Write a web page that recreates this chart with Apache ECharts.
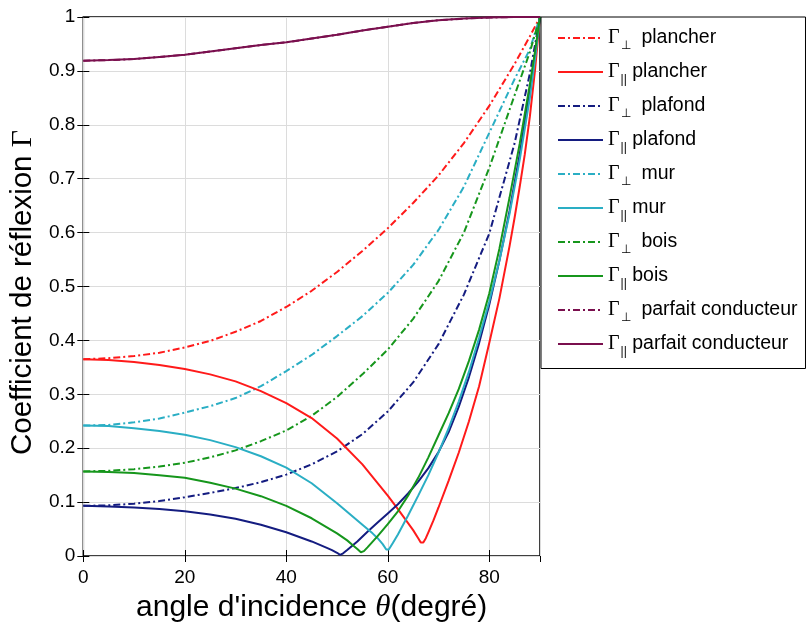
<!DOCTYPE html>
<html>
<head>
<meta charset="utf-8">
<script src="https://cdn.jsdelivr.net/npm/echarts@6/dist/echarts.min.js"></script>
<style>
    html, body { margin: 0; padding: 0; background: #fff; }
    #chart { width: 807px; height: 631px; }
</style>
</head>
<body>
<div id="chart"></div>
<script>
// angles (degrés) communs aux courbes perpendiculaires
var anglesPerp = [0, 5, 10, 15, 20, 25, 30, 35, 40, 45, 50, 55, 60, 65, 70, 75, 80, 85, 88, 90];

var plancherPerp = [0.365, 0.367, 0.371, 0.377, 0.387, 0.399, 0.416, 0.436, 0.462, 0.492, 0.527, 0.566, 0.608, 0.655, 0.706, 0.766, 0.835, 0.913, 0.964, 1];
var plafondPerp = [0.093, 0.094, 0.097, 0.102, 0.109, 0.117, 0.126, 0.137, 0.151, 0.170, 0.194, 0.226, 0.268, 0.322, 0.393, 0.485, 0.598, 0.766, 0.895, 1];
var murPerp = [0.242, 0.243, 0.248, 0.255, 0.266, 0.278, 0.293, 0.315, 0.343, 0.373, 0.408, 0.445, 0.488, 0.540, 0.605, 0.685, 0.785, 0.885, 0.940, 1];
var boisPerp = [0.157, 0.158, 0.161, 0.166, 0.173, 0.183, 0.196, 0.213, 0.233, 0.260, 0.295, 0.337, 0.383, 0.440, 0.510, 0.600, 0.720, 0.855, 0.935, 1];
var conducteurPerp = [0.919, 0.920, 0.922, 0.926, 0.930, 0.936, 0.942, 0.948, 0.953, 0.960, 0.967, 0.975, 0.982, 0.989, 0.994, 0.997, 0.999, 1, 1, 1];

// courbes paralleles (angles propres, plus serres autour du minimum)
var plancherParAngles = [0, 5, 10, 15, 20, 25, 30, 35, 40, 45, 50, 55, 60, 62, 64, 65, 66, 66.5, 67, 67.5, 68, 69, 70, 72, 74, 76, 78, 80, 82, 84, 85, 86, 87, 88, 89, 90];
var plancherPar = [0.365, 0.3635, 0.360, 0.3545, 0.347, 0.337, 0.324, 0.306, 0.2835, 0.256, 0.218, 0.170, 0.112, 0.087, 0.061, 0.048, 0.033, 0.025, 0.025, 0.033, 0.044, 0.066, 0.090, 0.140, 0.192, 0.250, 0.315, 0.395, 0.478, 0.575, 0.628, 0.685, 0.745, 0.815, 0.900, 1];

var plafondParAngles = [0, 5, 10, 15, 20, 25, 30, 35, 40, 45, 48, 49, 50, 50.6, 51.2, 52, 54, 56, 58, 60, 62, 64, 66, 68, 70, 72, 74, 76, 78, 80, 82, 84, 86, 88, 89, 90];
var plafondPar = [0.093, 0.092, 0.090, 0.087, 0.083, 0.077, 0.069, 0.058, 0.044, 0.027, 0.015, 0.011, 0.006, 0.002, 0.005, 0.011, 0.027, 0.045, 0.062, 0.079, 0.096, 0.116, 0.138, 0.163, 0.193, 0.230, 0.277, 0.332, 0.395, 0.466, 0.548, 0.640, 0.745, 0.865, 0.930, 1];

var murParAngles = [0, 5, 10, 15, 20, 25, 30, 35, 40, 45, 50, 55, 57, 58, 59, 59.7, 60.2, 61, 62, 64, 66, 68, 70, 72, 74, 76, 78, 80, 82, 84, 86, 88, 89, 90];
var murPar = [0.242, 0.241, 0.237, 0.232, 0.225, 0.215, 0.202, 0.185, 0.164, 0.135, 0.098, 0.058, 0.042, 0.033, 0.022, 0.012, 0.012, 0.024, 0.040, 0.075, 0.112, 0.150, 0.192, 0.237, 0.287, 0.342, 0.405, 0.472, 0.548, 0.635, 0.735, 0.850, 0.920, 1];

var boisParAngles = [0, 5, 10, 15, 20, 25, 30, 35, 40, 45, 50, 52, 53, 54, 54.7, 55.3, 56, 58, 60, 62, 64, 66, 68, 70, 72, 74, 76, 78, 80, 82, 84, 86, 88, 89, 90];
var boisPar = [0.157, 0.156, 0.154, 0.150, 0.145, 0.136, 0.125, 0.111, 0.093, 0.070, 0.042, 0.029, 0.021, 0.013, 0.007, 0.009, 0.016, 0.037, 0.059, 0.083, 0.112, 0.145, 0.183, 0.224, 0.265, 0.310, 0.362, 0.420, 0.487, 0.570, 0.665, 0.765, 0.875, 0.935, 1];

var conducteurPar = conducteurPerp;

var colors = {
    plancher: "#ff1a1a",
    plafond: "#141c80",
    mur: "#2aaec4",
    bois: "#16961c",
    conducteur: "#7a0f4e"
};

function pairs(xs, ys) {
    return xs.map(function (x, i) {
        return [x, ys[i]];
    });
}

function courbe(name, color, perp, xs, ys) {
    return {
        name: name,
        type: "line",
        symbol: "none",
        showSymbol: false,
        smooth: false,
        data: pairs(xs, ys),
        lineStyle: {color: color, width: 2, type: perp ? [7, 3, 2, 3] : "solid"},
        itemStyle: {color: color},
        z: perp ? 2 : 3
    };
}

var series = [
    courbe("perp|plancher", colors.plancher, true, anglesPerp, plancherPerp),
    courbe("par|plancher", colors.plancher, false, plancherParAngles, plancherPar),
    courbe("perp|plafond", colors.plafond, true, anglesPerp, plafondPerp),
    courbe("par|plafond", colors.plafond, false, plafondParAngles, plafondPar),
    courbe("perp|mur", colors.mur, true, anglesPerp, murPerp),
    courbe("par|mur", colors.mur, false, murParAngles, murPar),
    courbe("perp|bois", colors.bois, true, anglesPerp, boisPerp),
    courbe("par|bois", colors.bois, false, boisParAngles, boisPar),
    courbe("perp|parfait conducteur", colors.conducteur, true, anglesPerp, conducteurPerp),
    courbe("par|parfait conducteur", colors.conducteur, false, anglesPerp, conducteurPar)
];

var chart = echarts.init(document.getElementById("chart"), null, {renderer: "canvas"});

var axisCommon = {
    axisLine: {show: false},
    axisTick: {show: true, inside: true, length: 6, lineStyle: {color: "#000", width: 1}},
    splitLine: {show: false}
};

var option = {
    backgroundColor: "#fff",
    animation: false,
    grid: {
        left: 80, right: 267, top: 17, bottom: 75,
        show: true, borderColor: "#000", borderWidth: 1.5, backgroundColor: "#fff"
    },
    legend: {
        orient: "vertical",
        left: 541,
        top: 17,
        itemWidth: 45,
        itemHeight: 14,
        itemGap: 10.5,
        padding: [11, 8, 11, 16],
        borderColor: "#000",
        borderWidth: 1,
        backgroundColor: "#fff",
        itemStyle: {opacity: 0},
        data: series.map(function (s) { return s.name; }),
        formatter: function (name) {
            var p = name.split("|");
            var sub = p[0] === "perp" ? "⊥" : "||";
            return "{g|Γ}{s|" + sub + "}" + (p[0] === "perp" ? "  " : " ") + p[1];
        },
        textStyle: {
            fontFamily: "Liberation Sans",
            fontSize: 19.5,
            color: "#000",
            rich: {
                g: {fontFamily: "Liberation Serif", fontSize: 20, color: "#000"},
                s: {fontFamily: "Liberation Sans", fontSize: 12, color: "#000", padding: [15, 0, 0, 1]}
            }
        }
    },
    xAxis: [
        Object.assign({}, axisCommon, {
            type: "value", min: 0, max: 90, interval: 20,
            name: "angle d'incidence {t|θ}(degré)",
            nameLocation: "middle",
            nameGap: 33,
            nameTextStyle: {
                fontFamily: "Liberation Sans", fontSize: 30, color: "#000",
                rich: {t: {fontFamily: "Liberation Serif", fontStyle: "italic", fontSize: 31, color: "#000"}}
            },
            axisLabel: {fontFamily: "Liberation Sans", fontSize: 19, color: "#000", margin: 12, showMaxLabel: false},
            splitLine: {show: true, lineStyle: {color: "#dcdcdc", width: 1}}
        }),
        Object.assign({}, axisCommon, {
            type: "value", min: 0, max: 90, interval: 20, position: "top",
            axisLabel: {show: false}
        })
    ],
    yAxis: [
        Object.assign({}, axisCommon, {
            type: "value", min: 0, max: 1, interval: 0.1,
            name: "Coefficient de réflexion {g|Γ}",
            nameLocation: "middle",
            nameGap: 40,
            nameTextStyle: {
                fontFamily: "Liberation Sans", fontSize: 29.5, color: "#000",
                padding: [0, 12, 0, 0],
                rich: {g: {fontFamily: "Liberation Serif", fontSize: 30, color: "#000"}}
            },
            axisLabel: {fontFamily: "Liberation Sans", fontSize: 19, color: "#000", margin: 8},
            splitLine: {show: true, lineStyle: {color: "#dcdcdc", width: 1}}
        }),
        Object.assign({}, axisCommon, {
            type: "value", min: 0, max: 1, interval: 0.1, position: "right",
            axisLabel: {show: false}
        })
    ],
    series: series
};

chart.setOption(option);
</script>
</body>
</html>
